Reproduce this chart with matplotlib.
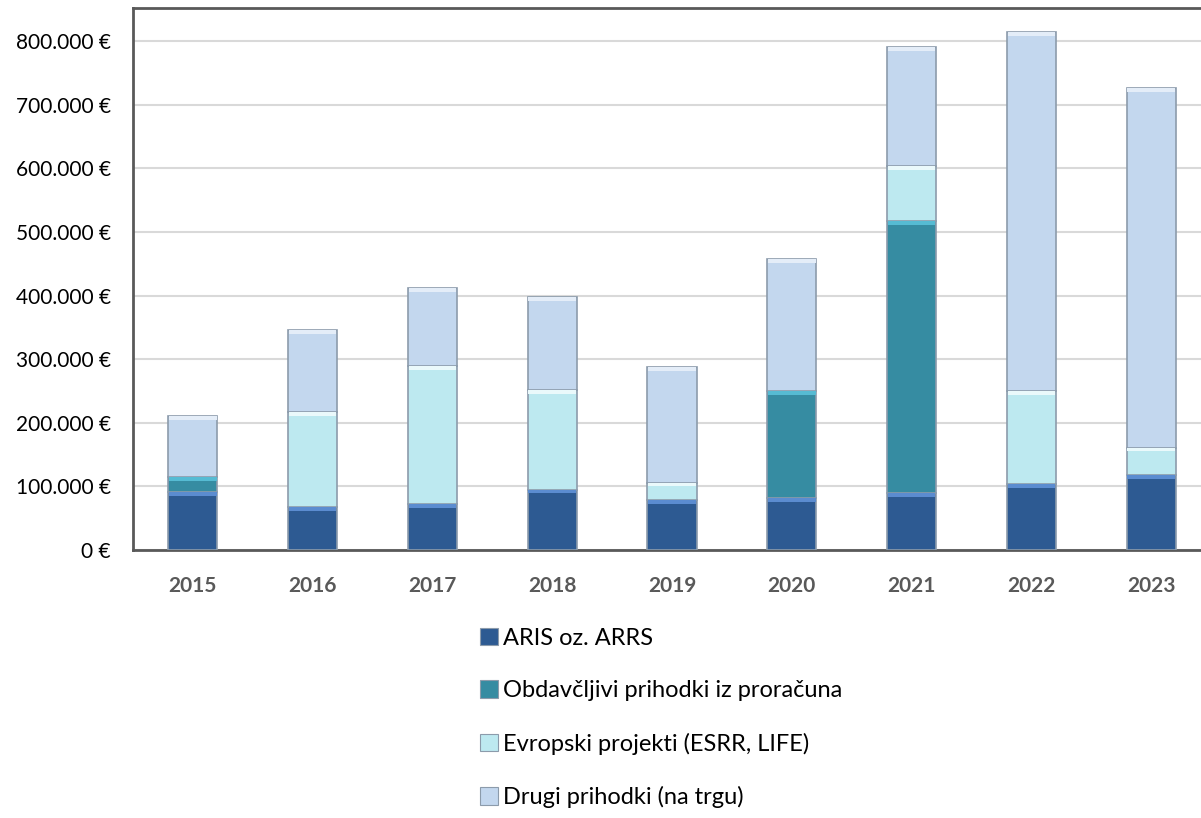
import numpy as np
import matplotlib.pyplot as plt
from matplotlib.patches import Patch
from matplotlib.ticker import FuncFormatter

years = ["2015", "2016", "2017", "2018", "2019", "2020", "2021", "2022", "2023"]
aris = [91000, 68000, 72000, 95000, 78000, 81000, 89000, 103000, 118000]
obdavcljivi = [24000, 0, 0, 0, 0, 169000, 428000, 0, 0]
evropski = [0, 149000, 217000, 157000, 28000, 0, 87000, 147000, 43000]
drugi = [96000, 129000, 123000, 145000, 181000, 207000, 186000, 564000, 565000]

labels = ["ARIS oz. ARRS", "Obdavčljivi prihodki iz proračuna",
          "Evropski projekti (ESRR, LIFE)", "Drugi prihodki (na trgu)"]
colors = ["#2D5A92", "#368CA2", "#BDE9F0", "#C3D7EE"]
highlights = ["#5B8CD0", "#56BBD3", "#EAF9FB", "#E4EDF8"]

plt.rcParams['font.family'] = ['Lato', 'DejaVu Sans']

fig = plt.figure(figsize=(12.01, 8.18), dpi=100)
ax = fig.add_axes([133 / 1201, 268 / 818, 1078 / 1201, 542 / 818])

x = np.arange(len(years))
width = 0.41
bevel = 6000
series = [aris, obdavcljivi, evropski, drugi]
bottom = np.zeros(len(years))
for vals, col, hi in zip(series, colors, highlights):
    vals = np.array(vals, dtype=float)
    ax.bar(x, vals, width, bottom=bottom, color=col, edgecolor="#8C9BAB",
           linewidth=1.2, zorder=3)
    m = vals > 3 * bevel
    # light strip along the top of each segment (bevel look)
    ax.bar(x[m], bevel, width * 0.97, bottom=(bottom + vals - bevel)[m],
           color=hi, linewidth=0, zorder=4)
    bottom += vals

ax.set_xlim(-0.5, len(years) - 0.5)
ax.set_ylim(0, 852000)
ax.set_yticks(np.arange(0, 800001, 100000))
ax.yaxis.set_major_formatter(FuncFormatter(
    lambda v, p: "0 €" if v == 0 else f"{int(v):,} €".replace(",", ".")))
ax.set_xticks(x)
ax.set_xticklabels(years, fontsize=15, fontweight="bold", color="#595959")
ax.tick_params(axis="y", length=0, pad=16, labelsize=15, labelcolor="#000000")
ax.tick_params(axis="x", length=0, pad=19)
ax.grid(axis="y", color="#D9D9D9", linewidth=1.5, zorder=0)
ax.set_axisbelow(True)
for s in ["left", "bottom", "top"]:
    ax.spines[s].set_color("#595959")
    ax.spines[s].set_linewidth(2)
ax.spines["right"].set_visible(False)

handles = [Patch(facecolor=c, edgecolor="#8C9BAB", linewidth=0.8) for c in colors]
fig.legend(handles, labels, loc="upper left", bbox_to_anchor=(468 / 1201, 1 - 616 / 818),
           frameon=False, fontsize=17, handlelength=0.75, handleheight=0.75,
           handletextpad=0.25, labelspacing=1.33, borderpad=0)

fig.savefig("out.png", dpi=100)
